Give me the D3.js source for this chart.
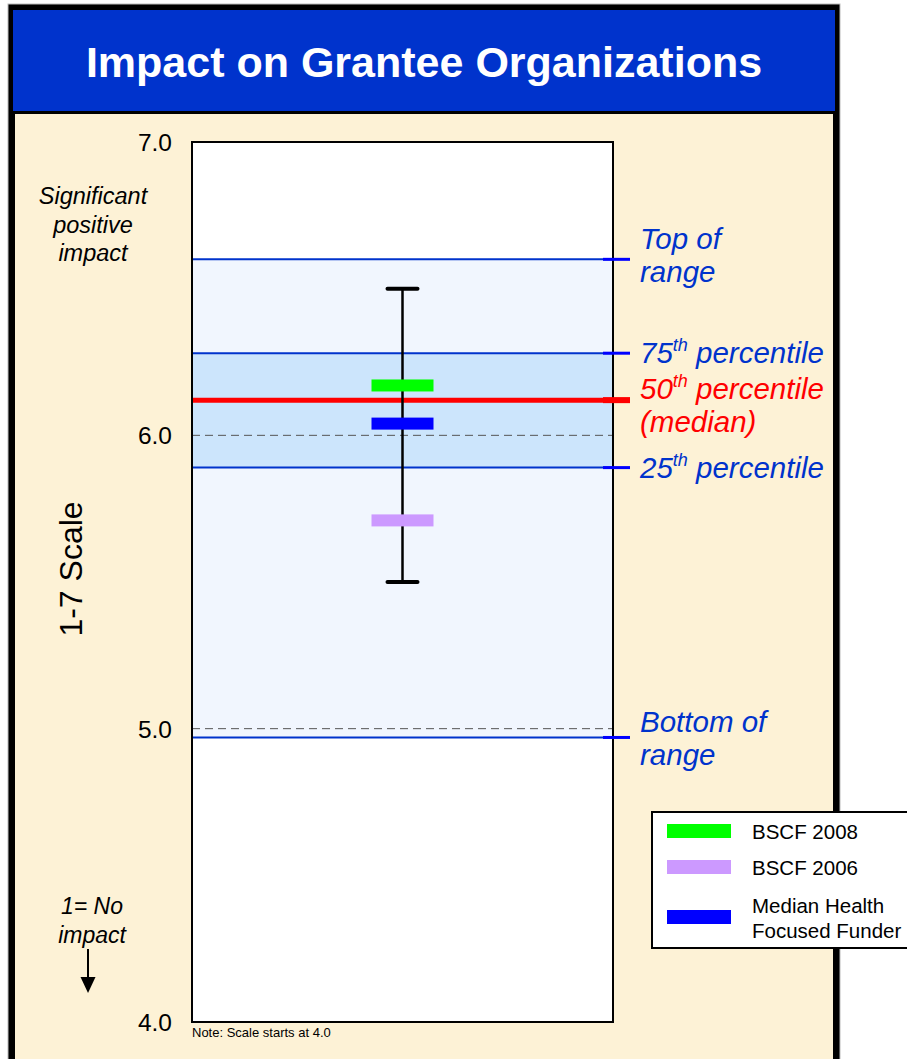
<!DOCTYPE html>
<html>
<head>
<meta charset="utf-8">
<script src="https://cdn.jsdelivr.net/npm/d3@7"></script>
<style>
  html, body { margin: 0; padding: 0; background: #fff; }
  svg { display: block; font-family: "Liberation Sans", Arial, Helvetica, sans-serif; }
</style>
</head>
<body>
<svg id="chart" width="907" height="1059"></svg>
<script>
// ---- data ----
const chartTitle = "Impact on Grantee Organizations";
const category = "Impact on Grantee Organizations";
const tickValues = [4.0, 5.0, 6.0, 7.0];
const dashedValues = [5.0, 6.0];

// Distribution of funder ratings (range, quartiles, median)
const benchmarkKeys = ["top", "p75", "median", "p25", "bottom"];
const benchmarkValues = [6.60, 6.28, 6.12, 5.89, 4.97];
const benchmarkLabels = [
  ["Top of", "range"],
  ["75^th^ percentile"],
  ["50^th^ percentile", "(median)"],
  ["25^th^ percentile"],
  ["Bottom of", "range"]
];

// Rated series
const seriesNames = ["BSCF 2008", "BSCF 2006", "Median Health Focused Funder"];
const seriesValues = [6.17, 5.71, 6.04];
const legendLabels = [["BSCF 2008"], ["BSCF 2006"], ["Median Health", "Focused Funder"]];

// Whisker extent of individual ratings
const whiskerLow = 5.50;
const whiskerHigh = 6.50;

// ---- styling ----
const seriesColors = ["#00FF00", "#CC99FF", "#0000FF"];
const benchmarkColors = ["#0033CC", "#0033CC", "#FF0000", "#0033CC", "#0033CC"];
const benchmarkOffsets = [-10, 10, -1, 10, -5];   // first baseline relative to the tick
const cream = "#FDF2D6";
const navy = "#0033CC";

// ---- layout ----
const svg = d3.select("#chart");
const plot = { left: 192, right: 613, top: 142, bottom: 1022 };

const y = d3.scaleLinear().domain([4, 7]).range([plot.bottom, plot.top]);
const x = d3.scalePoint().domain([category]).range([plot.left, plot.right]).padding(0.5);
const val = k => benchmarkValues[benchmarkKeys.indexOf(k)];

// frame, title bar and cream panel
svg.append("rect").attr("x", 8).attr("y", 4).attr("width", 832).attr("height", 1070)
  .attr("fill", "#000").attr("stroke", "#bbb").attr("stroke-width", 1);
svg.append("rect").attr("x", 13).attr("y", 10).attr("width", 822).attr("height", 101).attr("fill", navy);
svg.append("rect").attr("x", 15).attr("y", 114).attr("width", 818).attr("height", 960).attr("fill", cream);

svg.append("text")
  .attr("x", 424).attr("y", 77)
  .attr("text-anchor", "middle")
  .attr("fill", "#fff").attr("font-size", 43).attr("font-weight", "bold")
  .text(chartTitle);

// plot background and bands
svg.append("rect").attr("x", plot.left).attr("y", plot.top)
  .attr("width", plot.right - plot.left).attr("height", plot.bottom - plot.top).attr("fill", "#fff");
svg.append("rect").attr("x", plot.left).attr("y", y(val("top")))
  .attr("width", plot.right - plot.left).attr("height", y(val("bottom")) - y(val("top")))
  .attr("fill", "#F1F6FE");
svg.append("rect").attr("x", plot.left).attr("y", y(val("p75")))
  .attr("width", plot.right - plot.left).attr("height", y(val("p25")) - y(val("p75")))
  .attr("fill", "#CCE5FC");

// dashed reference lines
svg.append("g").selectAll("line").data(dashedValues).join("line")
  .attr("x1", plot.left).attr("x2", plot.right)
  .attr("y1", d => y(d)).attr("y2", d => y(d))
  .attr("stroke", "#555").attr("stroke-width", 1).attr("stroke-dasharray", "8,5");

// benchmark lines inside the plot
svg.append("g").selectAll("line").data(benchmarkValues).join("line")
  .attr("x1", plot.left).attr("x2", (d, i) => benchmarkKeys[i] === "median" ? 630 : plot.right)
  .attr("y1", d => y(d)).attr("y2", d => y(d))
  .attr("stroke", (d, i) => benchmarkKeys[i] === "median" ? "#FF0000" : navy)
  .attr("stroke-width", (d, i) => benchmarkKeys[i] === "median" ? 5 : 2);

// whisker
const cx = x(category);
const whisker = svg.append("g").attr("stroke", "#000");
whisker.append("line").attr("x1", cx).attr("x2", cx)
  .attr("y1", y(whiskerHigh)).attr("y2", y(whiskerLow)).attr("stroke-width", 2.5);
[whiskerHigh, whiskerLow].forEach(v => {
  whisker.append("line").attr("x1", cx - 15).attr("x2", cx + 15)
    .attr("y1", y(v)).attr("y2", y(v)).attr("stroke-width", 4).attr("stroke-linecap", "round");
});

// series marks
svg.append("g").selectAll("rect").data(seriesValues).join("rect")
  .attr("x", cx - 31).attr("width", 62)
  .attr("y", d => y(d) - 6).attr("height", 12)
  .attr("fill", (d, i) => seriesColors[i]);

// plot border
svg.append("rect").attr("x", plot.left).attr("y", plot.top)
  .attr("width", plot.right - plot.left).attr("height", plot.bottom - plot.top)
  .attr("fill", "none").attr("stroke", "#000").attr("stroke-width", 2);

// tick marks on the right edge for the benchmarks
svg.append("g").selectAll("line").data(benchmarkValues).join("line")
  .attr("x1", 603).attr("x2", 630)
  .attr("y1", d => y(d)).attr("y2", d => y(d))
  .attr("stroke", (d, i) => benchmarkKeys[i] === "median" ? "#FF0000" : "#0000FF")
  .attr("stroke-width", (d, i) => benchmarkKeys[i] === "median" ? 6 : 3);

// benchmark labels
const labelG = svg.append("g").attr("font-style", "italic").attr("font-size", 29.5);
benchmarkLabels.forEach((lines, i) => {
  const t = labelG.append("text")
    .attr("x", 640)
    .attr("y", y(benchmarkValues[i]) + benchmarkOffsets[i])
    .attr("fill", benchmarkColors[i]);
  lines.forEach((line, li) => {
    const parts = line.split("^");
    parts.forEach((p, pi) => {
      if (!p) return;
      const span = t.append("tspan").text(p);
      if (pi === 0) span.attr("x", 640).attr("dy", li === 0 ? 0 : 33);
      if (pi % 2 === 1) span.attr("font-size", 18).attr("dy", -12);
      else if (pi > 0) span.attr("dy", 12);
    });
  });
});

// y axis labels
const axis = d3.axisLeft(y).tickValues(tickValues).tickFormat(d3.format(".1f")).tickSize(0).tickPadding(20);
const axG = svg.append("g").attr("transform", `translate(${plot.left},0)`).call(axis);
axG.select(".domain").remove();
axG.selectAll("text").attr("font-size", 24.5).attr("fill", "#000")
  .attr("font-family", "'Liberation Sans', Arial, sans-serif").attr("dy", "0.35em");

svg.append("text")
  .attr("transform", "translate(82,569) rotate(-90)")
  .attr("text-anchor", "middle").attr("font-size", 32).attr("fill", "#000")
  .text("1-7 Scale");

// scale end annotations
const topNote = svg.append("text").attr("text-anchor", "middle").attr("font-style", "italic")
  .attr("font-size", 23.5).attr("fill", "#000");
["Significant", "positive", "impact"].forEach((s, i) =>
  topNote.append("tspan").attr("x", 93).attr("y", 204 + i * 28.5).text(s));

const bottomNote = svg.append("text").attr("text-anchor", "middle").attr("font-style", "italic")
  .attr("font-size", 23).attr("fill", "#000");
["1= No", "impact"].forEach((s, i) =>
  bottomNote.append("tspan").attr("x", 92).attr("y", 914 + i * 29).text(s));

svg.append("line").attr("x1", 88).attr("x2", 88).attr("y1", 949).attr("y2", 980)
  .attr("stroke", "#000").attr("stroke-width", 2);
svg.append("path").attr("d", "M80.5,977 L95.5,977 L88,993 Z").attr("fill", "#000");

svg.append("text").attr("x", 192).attr("y", 1037).attr("font-size", 13).attr("fill", "#000")
  .text("Note: Scale starts at 4.0");

// legend
const legend = svg.append("g");
legend.append("rect").attr("x", 652).attr("y", 812).attr("width", 300).attr("height", 136)
  .attr("fill", "#fff").attr("stroke", "#000").attr("stroke-width", 2);
const swatchY = [831, 867, 917];
const textY = [839, 875, 913];
seriesNames.forEach((name, i) => {
  legend.append("rect").attr("x", 667).attr("y", swatchY[i] - 7).attr("width", 64).attr("height", 14)
    .attr("fill", seriesColors[i]);
  const t = legend.append("text").attr("font-size", 20.5).attr("fill", "#000");
  legendLabels[i].forEach((s, li) =>
    t.append("tspan").attr("x", 752).attr("y", textY[i] + li * 25).text(s));
});
</script>
</body>
</html>
